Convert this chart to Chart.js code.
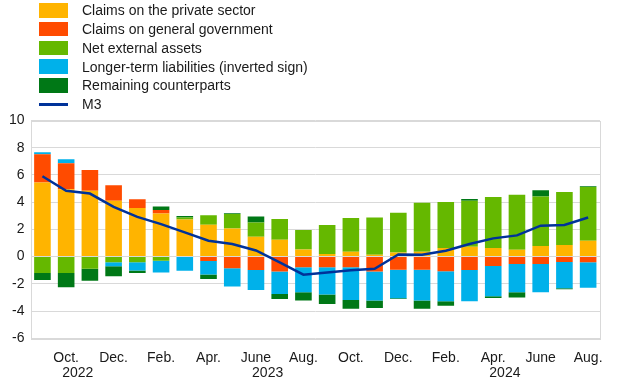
<!DOCTYPE html>
<html>
<head>
<meta charset="utf-8">
<script src="https://cdn.jsdelivr.net/npm/chart.js@4"></script>
<style>
  html, body { margin: 0; padding: 0; background: #fff; }
  #wrap { position: relative; width: 620px; height: 387px; font-family: "Liberation Sans", Arial, sans-serif; }
  #legend { position: absolute; left: 39px; top: 1px; font-size: 14px; color: #1a1a1a; }
  .item { display: flex; align-items: center; height: 18.75px; }
  .box { width: 29px; height: 14.5px; margin-right: 14px; }
  .line { width: 29px; height: 3px; margin-right: 14px; }
</style>
</head>
<body>
<div id="wrap">
  <canvas id="chart" width="620" height="387"></canvas>
  <div id="legend"></div>
</div>
<script>
// Sep 2022 .. Aug 2024, monthly
const months = ["Sep 2022", "Oct 2022", "Nov 2022", "Dec 2022", "Jan 2023", "Feb 2023", "Mar 2023", "Apr 2023",
  "May 2023", "Jun 2023", "Jul 2023", "Aug 2023", "Sep 2023", "Oct 2023", "Nov 2023", "Dec 2023",
  "Jan 2024", "Feb 2024", "Mar 2024", "Apr 2024", "May 2024", "Jun 2024", "Jul 2024", "Aug 2024"];

const tickMonths = ["", "Oct.", "", "Dec.", "", "Feb.", "", "Apr.", "", "June", "", "Aug.",
  "", "Oct.", "", "Dec.", "", "Feb.", "", "Apr.", "", "June", "", "Aug."];
const tickYears = ["", "2022", "", "", "", "", "", "", "", "2023", "", "",
  "", "", "", "", "", "", "", "2024", "", "", "", ""];

const privateSector = [5.44, 4.95, 4.83, 4.10, 3.58, 3.17, 2.72, 2.34, 2.06, 1.46, 1.24, 0.53,
  0.19, 0.36, 0.14, 0.31, 0.36, 0.63, 0.73, 0.64, 0.51, 0.78, 0.85, 1.17];
const generalGov = [2.08, 1.91, 1.54, 1.15, 0.64, 0.26, 0.00, -0.32, -0.85, -0.98, -1.10, -0.79,
  -0.79, -0.79, -1.10, -0.96, -0.96, -1.08, -0.98, -0.69, -0.54, -0.54, -0.40, -0.42];
const netExternal = [-1.20, -1.20, -0.89, -0.42, -0.42, -0.30, 0.15, 0.70, 1.07, 1.05, 1.52, 1.42,
  2.13, 2.47, 2.74, 2.91, 3.59, 3.39, 3.37, 3.74, 4.03, 3.63, 3.89, 3.95];
const longerTerm = [0.15, 0.29, 0.00, -0.29, -0.61, -0.86, -1.04, -1.00, -1.35, -1.47, -1.64, -1.83,
  -2.00, -2.39, -2.13, -2.10, -2.27, -2.20, -2.30, -2.23, -2.08, -2.08, -1.93, -1.86];
const remaining = [-0.52, -1.06, -0.88, -0.74, -0.17, 0.25, 0.12, -0.33, 0.05, 0.44, -0.37, -0.61,
  -0.69, -0.66, -0.54, -0.05, -0.61, -0.34, 0.14, -0.12, -0.39, 0.47, -0.07, 0.05];
const m3 = [5.90, 4.83, 4.63, 3.65, 2.92, 2.39, 1.78, 1.17, 0.92, 0.45, -0.42, -1.33,
  -1.16, -1.01, -0.89, 0.16, 0.14, 0.43, 0.92, 1.34, 1.56, 2.27, 2.32, 2.87];

const FONT = "'Liberation Sans', Arial, sans-serif";

const bar = (label, data, color) => ({
  type: "bar", label, data, backgroundColor: color, borderWidth: 0,
  stack: "counterparts", order: 1, barPercentage: 0.7, categoryPercentage: 1
});

const datasets = [
  bar("Claims on the private sector", privateSector, "#ffb400"),
  bar("Claims on general government", generalGov, "#ff4b00"),
  bar("Net external assets", netExternal, "#65b800"),
  bar("Longer-term liabilities (inverted sign)", longerTerm, "#00b1ea"),
  bar("Remaining counterparts", remaining, "#007816"),
  {
    type: "line", label: "M3", data: m3, borderColor: "#003299", backgroundColor: "#003299",
    borderWidth: 2.5, pointRadius: 0, tension: 0, stack: "m3", order: 0
  }
];

const frame = {
  id: "frame",
  afterDatasetsDraw(chart) {
    const a = chart.chartArea, ctx = chart.ctx;
    ctx.save();
    ctx.strokeStyle = "#d9d9d9";
    ctx.lineWidth = 1;
    ctx.strokeRect(Math.round(a.left) + 0.5, Math.round(a.top) + 0.5,
      Math.round(a.right - a.left), Math.round(a.bottom - a.top));
    ctx.restore();
  }
};

new Chart(document.getElementById("chart"), {
  data: { labels: months, datasets },
  options: {
    responsive: false,
    animation: false,
    layout: { padding: { top: 120.5, left: 3, right: 20, bottom: -5.5 } },
    plugins: { legend: { display: false }, tooltip: { enabled: false } },
    scales: {
      x: {
        stacked: true,
        grid: { display: false, drawTicks: false },
        border: { display: false },
        ticks: {
          autoSkip: false, maxRotation: 0, padding: 12, color: "#1a1a1a",
          font: { family: FONT, size: 14, lineHeight: 1.08 },
          callback: (v, i) => [tickMonths[i], tickYears[i] ? "      " + tickYears[i] : ""]
        }
      },
      y: {
        stacked: true, min: -6, max: 10,
        grid: { color: "#d9d9d9", drawTicks: false },
        border: { display: false },
        ticks: {
          stepSize: 2, padding: 6, color: "#1a1a1a",
          font: { family: FONT, size: 14 }
        }
      }
    }
  },
  plugins: [frame]
});

// legend as html, built from the datasets
const legend = document.getElementById("legend");
datasets.forEach(d => {
  const row = document.createElement("div");
  row.className = "item";
  const mark = document.createElement("span");
  mark.className = d.type === "line" ? "line" : "box";
  mark.style.background = d.type === "line" ? d.borderColor : d.backgroundColor;
  const txt = document.createElement("span");
  txt.textContent = d.label;
  row.appendChild(mark);
  row.appendChild(txt);
  legend.appendChild(row);
});
</script>
</body>
</html>
